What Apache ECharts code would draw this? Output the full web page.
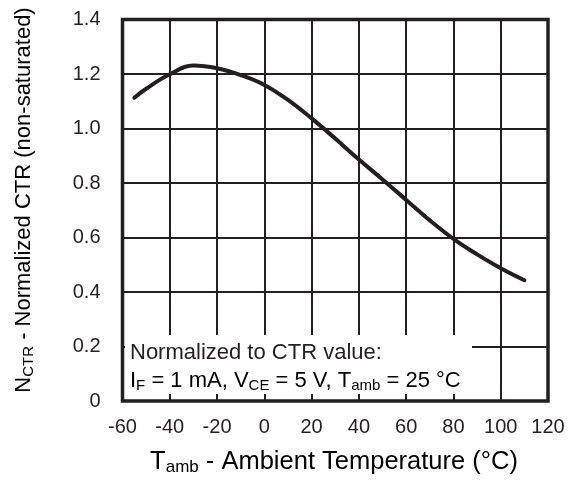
<!DOCTYPE html>
<html>
<head>
<meta charset="utf-8">
<script src="https://cdn.jsdelivr.net/npm/echarts@6/dist/echarts.min.js"></script>
<style>
  html, body { margin: 0; padding: 0; background: #fff; }
  #main { width: 586px; height: 485px; }
</style>
</head>
<body>
<div id="main"></div>
<script>
// curve
var temps = [-55, -50, -40, -30, -20, -10, 0, 10, 20, 30, 40, 50, 60, 70, 80, 90, 100, 110];
var nctr = [1.113, 1.146, 1.199, 1.231, 1.221, 1.196, 1.160, 1.105, 1.037, 0.963, 0.886, 0.813, 0.738, 0.663, 0.595, 0.538, 0.487, 0.443];
var xTicks = [-60, -40, -20, 0, 20, 40, 60, 80, 100, 120];
var yTicks = [0, 0.2, 0.4, 0.6, 0.8, 1.0, 1.2, 1.4];

var ink = '#231f20';
var font = '"Liberation Sans", Arial, Helvetica, sans-serif';

var pts = temps.map(function (t, i) { return [t, nctr[i]]; });

// rich styles for subscripts
var rich = function (size) {
    return {
        m: { fontSize: size, fontFamily: font, color: ink, lineHeight: size + 2 },
        s: { fontSize: Math.round(size * 0.68), fontFamily: font, color: ink, lineHeight: 8, verticalAlign: 'bottom' }
    };
};

var myChart = echarts.init(document.getElementById('main'));

var option = {
    animation: false,
    backgroundColor: '#fff',
    grid: {
        left: 122.5, right: 38, top: 19.5, bottom: 84,
        show: true, borderColor: ink, borderWidth: 3.5, backgroundColor: 'transparent'
    },
    xAxis: [
        {
            type: 'value',
            min: xTicks[0], max: xTicks[xTicks.length - 1], interval: 20,
            axisLine: { show: false },
            axisTick: { show: false },
            axisLabel: { fontSize: 20, fontFamily: font, color: ink, margin: 16 },
            splitLine: { show: true, lineStyle: { color: ink, width: 2 } }
        },
        {
            // short inside ticks that stay visible over the note box
            type: 'value', position: 'bottom', z: 5,
            min: xTicks[0], max: xTicks[xTicks.length - 1], interval: 20,
            axisLine: { show: false },
            axisTick: { show: true, inside: true, length: 7, lineStyle: { color: ink, width: 2 } },
            axisLabel: { show: false },
            splitLine: { show: false }
        }
    ],
    yAxis: {
        type: 'value',
        min: yTicks[0], max: yTicks[yTicks.length - 1], interval: 0.2,
        axisLine: { show: false },
        axisTick: { show: false },
        axisLabel: {
            fontSize: 20, fontFamily: font, color: ink, margin: 22,
            formatter: function (v) { return v === 0 ? '0' : v.toFixed(1); }
        },
        splitLine: { show: true, lineStyle: { color: ink, width: 2 } }
    },
    graphic: [
        {
            type: 'rect', z: 1,
            shape: { x: 125, y: 335, width: 347, height: 60 },
            style: { fill: '#fff' }
        },
        {
            type: 'text', z: 10, x: 130, y: 353,
            style: {
                text: 'Normalized to CTR value:',
                fontSize: 22, fontFamily: font, fill: ink,
                align: 'left', verticalAlign: 'middle'
            }
        },
        {
            type: 'text', z: 10, x: 130, y: 381,
            style: {
                text: '{m|I}{s|F}{m| = 1 mA, V}{s|CE}{m| = 5 V, T}{s|amb}{m| = 25 °C}',
                rich: rich(22), align: 'left', verticalAlign: 'middle'
            }
        },
        {
            type: 'text', z: 10, x: 334, y: 462,
            style: {
                text: '{m|T}{s|amb}{m| - Ambient Temperature (°C)}',
                rich: rich(25.5), align: 'center', verticalAlign: 'middle'
            }
        },
        {
            type: 'text', z: 10, x: 24, y: 200, rotation: Math.PI / 2,
            style: {
                text: '{m|N}{s|CTR}{m| - Normalized CTR (non-saturated)}',
                rich: rich(22), align: 'center', verticalAlign: 'middle'
            }
        }
    ],
    series: [
        {
            type: 'line',
            data: pts,
            smooth: 0.4,
            symbol: 'none',
            z: 3,
            lineStyle: { color: ink, width: 4, cap: 'round' }
        }
    ]
};

myChart.setOption(option);
</script>
</body>
</html>
